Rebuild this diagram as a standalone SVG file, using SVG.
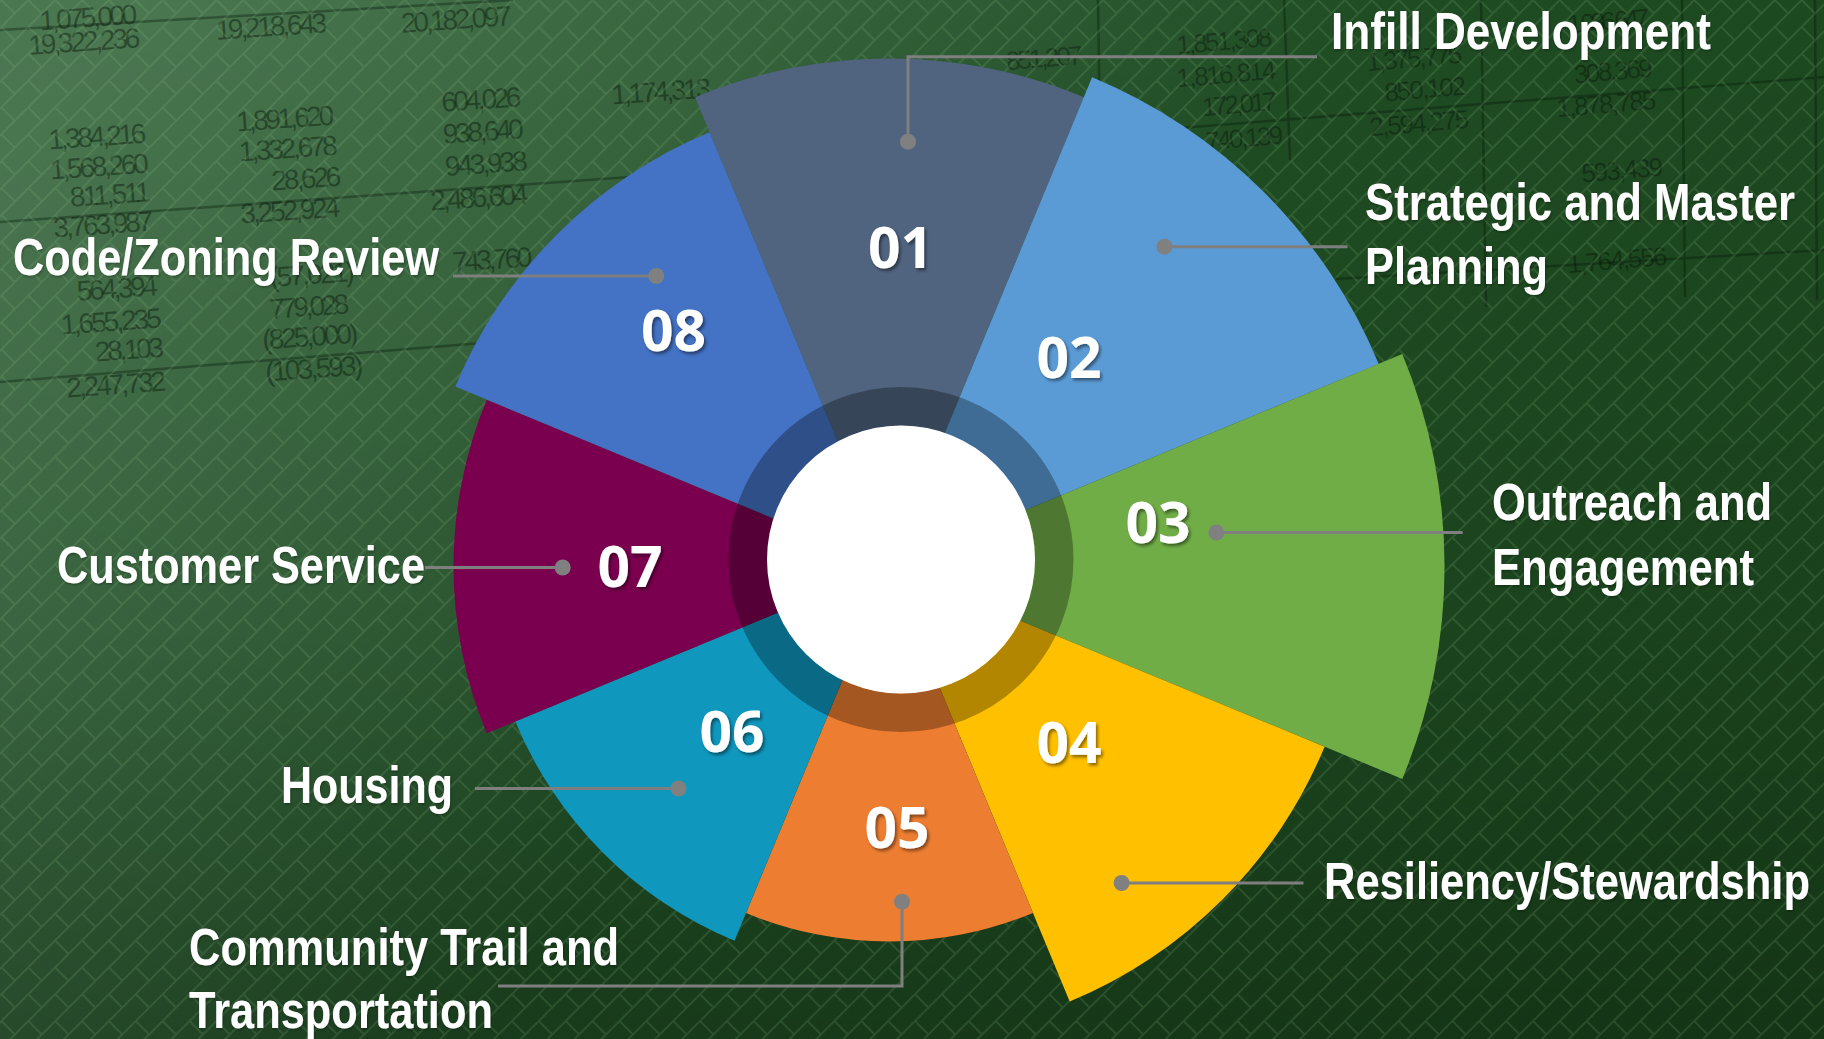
<svg xmlns="http://www.w3.org/2000/svg" width="1824" height="1039" viewBox="0 0 1824 1039">
<defs>
<linearGradient id="bg" x1="0" y1="0.15" x2="1" y2="0.65">
<stop offset="0" stop-color="#4a7650"/>
<stop offset="0.28" stop-color="#36633c"/>
<stop offset="0.55" stop-color="#1f4c23"/>
<stop offset="1" stop-color="#1a441c"/>
</linearGradient>
<linearGradient id="bgv" x1="0" y1="0" x2="0" y2="1">
<stop offset="0" stop-color="#000" stop-opacity="0"/>
<stop offset="0.6" stop-color="#000" stop-opacity="0.05"/>
<stop offset="1" stop-color="#000" stop-opacity="0.22"/>
</linearGradient>
<pattern id="lat" width="38" height="38" patternUnits="userSpaceOnUse" patternTransform="rotate(-45)">
<path d="M0,1H38M0,20H38M1,1V20M20,20V38M20,0V1" stroke="#9ccc95" stroke-opacity="0.15" stroke-width="2" fill="none"/>
</pattern>
<filter id="sh" x="-20%" y="-20%" width="140%" height="140%">
<feDropShadow dx="2" dy="2.5" stdDeviation="1.5" flood-color="#000" flood-opacity="0.45"/>
</filter>
<filter id="lsh" x="-5%" y="-20%" width="110%" height="140%">
<feDropShadow dx="1" dy="1.5" stdDeviation="1" flood-color="#000" flood-opacity="0.3"/>
</filter>
</defs>
<style>
.num{font-family:"Open Sans","Noto Sans","DejaVu Sans",sans-serif;font-weight:700;font-size:57px;fill:#fff;text-anchor:middle;filter:url(#sh)}
.lbl{font-family:"Liberation Sans","Arial",sans-serif;font-weight:700;font-size:52px;fill:#fff;filter:url(#lsh)}
.ss{font-family:"Liberation Sans Narrow","Arial Narrow","Liberation Sans",sans-serif;font-size:28px;fill:#0a1c0c;fill-opacity:0.48;text-anchor:middle}
.ssr{font-family:"Liberation Sans Narrow","Arial Narrow","Liberation Sans",sans-serif;font-size:26px;fill:#000;fill-opacity:0.32;text-anchor:middle}
.tl{stroke:#071708;stroke-opacity:0.35;stroke-width:2.5;fill:none}
.con{stroke:#7f7f7f;stroke-width:3;fill:none}
.dot{fill:#808080}
</style>

<g id="background">
<rect width="1824" height="1039" fill="url(#bg)"/>
<rect width="1824" height="1039" fill="url(#bgv)"/>
<g id="sheet">
<path class="tl" d="M0,30L513,0M0,222L700,172M0,382L482,343M1180,128L1824,77M1250,284L1824,250M1098,0L1100,140M1284,0L1290,160M1481,0L1486,307M1682,0L1685,297M1815,0L1817,300"/>
<text class="ss" x="89" y="27" textLength="98" transform="rotate(-4 89 27)">1,075,000</text>
<text class="ss" x="85" y="51" textLength="112" transform="rotate(-4 85 51)">19,322,236</text>
<text class="ss" x="98" y="146" textLength="98" transform="rotate(-4 98 146)">1,384,216</text>
<text class="ss" x="100" y="176" textLength="99" transform="rotate(-4 100 176)">1,568,260</text>
<text class="ss" x="111" y="204" textLength="81" transform="rotate(-4 111 204)">811,511</text>
<text class="ss" x="104" y="234" textLength="100" transform="rotate(-4 104 234)">3,763,987</text>
<text class="ss" x="118" y="298" textLength="81" transform="rotate(-4 118 298)">564,394</text>
<text class="ss" x="112" y="331" textLength="101" transform="rotate(-4 112 331)">1,655,235</text>
<text class="ss" x="130" y="359" textLength="69" transform="rotate(-4 130 359)">28,103</text>
<text class="ss" x="117" y="394" textLength="100" transform="rotate(-4 117 394)">2,247,732</text>
<text class="ss" x="272" y="36" textLength="112" transform="rotate(-4 272 36)">19,218,643</text>
<text class="ss" x="286" y="128" textLength="98" transform="rotate(-4 286 128)">1,891,620</text>
<text class="ss" x="289" y="158" textLength="99" transform="rotate(-4 289 158)">1,332,678</text>
<text class="ss" x="307" y="188" textLength="70" transform="rotate(-4 307 188)">28,626</text>
<text class="ss" x="291" y="220" textLength="100" transform="rotate(-4 291 220)">3,252,924</text>
<text class="ss" x="313" y="284" textLength="85" transform="rotate(-4 313 284)">(57,021)</text>
<text class="ss" x="310" y="316" textLength="80" transform="rotate(-4 310 316)">779,028</text>
<text class="ss" x="311" y="346" textLength="96" transform="rotate(-4 311 346)">(825,000)</text>
<text class="ss" x="315" y="378" textLength="98" transform="rotate(-4 315 378)">(103,593)</text>
<text class="ss" x="457" y="29" textLength="111" transform="rotate(-4 457 29)">20,182,097</text>
<text class="ss" x="482" y="109" textLength="80" transform="rotate(-4 482 109)">604,026</text>
<text class="ss" x="484" y="141" textLength="81" transform="rotate(-4 484 141)">938,640</text>
<text class="ss" x="487" y="173" textLength="83" transform="rotate(-4 487 173)">943,938</text>
<text class="ss" x="480" y="207" textLength="98" transform="rotate(-4 480 207)">2,486,604</text>
<text class="ss" x="493" y="269" textLength="80" transform="rotate(-4 493 269)">743,760</text>
<text class="ss" x="662" y="101" textLength="100" transform="rotate(-4 662 101)">1,174,313</text>
<text class="ssr" x="1045" y="67" textLength="77" transform="rotate(-5 1045 67)">851,207</text>
<text class="ssr" x="1225" y="50" textLength="96" transform="rotate(-5 1225 50)">1,851,308</text>
<text class="ssr" x="1227" y="83" textLength="100" transform="rotate(-5 1227 83)">1,816,814</text>
<text class="ssr" x="1240" y="113" textLength="75" transform="rotate(-5 1240 113)">172,017</text>
<text class="ssr" x="1245" y="147" textLength="78" transform="rotate(-5 1245 147)">740,139</text>
<text class="ssr" x="1415" y="67" textLength="96" transform="rotate(-5 1415 67)">1,375,775</text>
<text class="ssr" x="1426" y="98" textLength="82" transform="rotate(-5 1426 98)">850,102</text>
<text class="ssr" x="1420" y="132" textLength="100" transform="rotate(-5 1420 132)">2,594,275</text>
<text class="ssr" x="1609" y="30" textLength="82" transform="rotate(-5 1609 30)">1,086,647</text>
<text class="ssr" x="1614" y="80" textLength="79" transform="rotate(-5 1614 80)">308,369</text>
<text class="ssr" x="1607" y="113" textLength="100" transform="rotate(-5 1607 113)">1,878,785</text>
<text class="ssr" x="1623" y="179" textLength="82" transform="rotate(-5 1623 179)">593,439</text>
<text class="ssr" x="1618" y="269" textLength="100" transform="rotate(-5 1618 269)">1,764,556</text>
</g>
<rect width="1824" height="1039" fill="url(#lat)"/>
</g>

<g id="wheel">
<path id="seg01" d="M889.5,566.5L695.1,97.2A508,508 0 0 1 1083.9,97.2Z" fill="#50647f"/>
<path id="seg02" d="M889.5,566.5L1092.1,77.3A529.5,529.5 0 0 1 1378.7,363.9Z" fill="#5b9bd5"/>
<path id="seg03" d="M889.5,566.5L1402.3,354.1A555,555 0 0 1 1402.3,778.9Z" fill="#70ad47"/>
<path id="seg04" d="M889.5,566.5L1324.6,746.7A471,471 0 0 1 1069.7,1001.6Z" fill="#ffc000"/>
<path id="seg05" d="M889.5,566.5L1033,913A375,375 0 0 1 746,913Z" fill="#ed7d31"/>
<path id="seg06" d="M889.5,566.5L734.5,940.7A405,405 0 0 1 515.3,721.5Z" fill="#0f97bd"/>
<path id="seg07" d="M889.5,566.5L486.7,733.3A436,436 0 0 1 486.7,399.7Z" fill="#7a004f"/>
<path id="seg08" d="M889.5,566.5L455.3,386.6A470,470 0 0 1 709.6,132.3Z" fill="#4472c4"/>
<circle id="ring" cx="901" cy="559.5" r="153.25" fill="none" stroke="#000" stroke-opacity="0.3" stroke-width="38.5"/>
<circle id="hub" cx="901" cy="559.5" r="134" fill="#fff"/>
</g>

<g id="connectors">
<path class="con" d="M908,141.7V56.7H1317"/>
<path class="con" d="M1164.5,246.7H1347.5"/>
<path class="con" d="M1216.4,532.5H1462.7"/>
<path class="con" d="M1121.6,883H1303.5"/>
<path class="con" d="M902,901.7V986H498"/>
<path class="con" d="M678.5,788.5H475"/>
<path class="con" d="M562.7,567.5H424.8"/>
<path class="con" d="M656.3,276H453"/>
</g>

<g id="node01"><circle class="dot" cx="908" cy="141.7" r="8"/><text class="num" x="900.5" y="268">01</text><text class="lbl" transform="translate(1331 49) scale(0.82 1)" textLength="463.4" lengthAdjust="spacingAndGlyphs">Infill Development</text></g>
<g id="node02"><circle class="dot" cx="1164.5" cy="246.7" r="8"/><text class="num" x="1069" y="378">02</text><text class="lbl" transform="translate(1365 220) scale(0.82 1)" textLength="524.4" lengthAdjust="spacingAndGlyphs">Strategic and Master</text><text class="lbl" transform="translate(1365 284) scale(0.82 1)" textLength="223.2" lengthAdjust="spacingAndGlyphs">Planning</text></g>
<g id="node03"><circle class="dot" cx="1216.4" cy="532.5" r="8"/><text class="num" x="1158" y="543">03</text><text class="lbl" transform="translate(1492 520) scale(0.82 1)" textLength="341.5" lengthAdjust="spacingAndGlyphs">Outreach and</text><text class="lbl" transform="translate(1492 585) scale(0.82 1)" textLength="319.5" lengthAdjust="spacingAndGlyphs">Engagement</text></g>
<g id="node04"><circle class="dot" cx="1121.6" cy="883" r="8"/><text class="num" x="1069" y="763">04</text><text class="lbl" transform="translate(1324 899) scale(0.82 1)" textLength="592.7" lengthAdjust="spacingAndGlyphs">Resiliency/Stewardship</text></g>
<g id="node05"><circle class="dot" cx="902" cy="901.7" r="8"/><text class="num" x="897" y="848">05</text><text class="lbl" transform="translate(189 965) scale(0.82 1)" textLength="524.4" lengthAdjust="spacingAndGlyphs">Community Trail and</text><text class="lbl" transform="translate(189 1028) scale(0.82 1)" textLength="370.7" lengthAdjust="spacingAndGlyphs">Transportation</text></g>
<g id="node06"><circle class="dot" cx="678.5" cy="788.5" r="8"/><text class="num" x="732" y="752">06</text><text class="lbl" transform="translate(281 803) scale(0.82 1)" textLength="209.8" lengthAdjust="spacingAndGlyphs">Housing</text></g>
<g id="node07"><circle class="dot" cx="562.7" cy="567.5" r="8"/><text class="num" x="630" y="587">07</text><text class="lbl" transform="translate(57 583) scale(0.82 1)" textLength="448.8" lengthAdjust="spacingAndGlyphs">Customer Service</text></g>
<g id="node08"><circle class="dot" cx="656.3" cy="276" r="8"/><text class="num" x="673.5" y="351">08</text><text class="lbl" transform="translate(13 275) scale(0.82 1)" textLength="519.5" lengthAdjust="spacingAndGlyphs">Code/Zoning Review</text></g>
</svg>
